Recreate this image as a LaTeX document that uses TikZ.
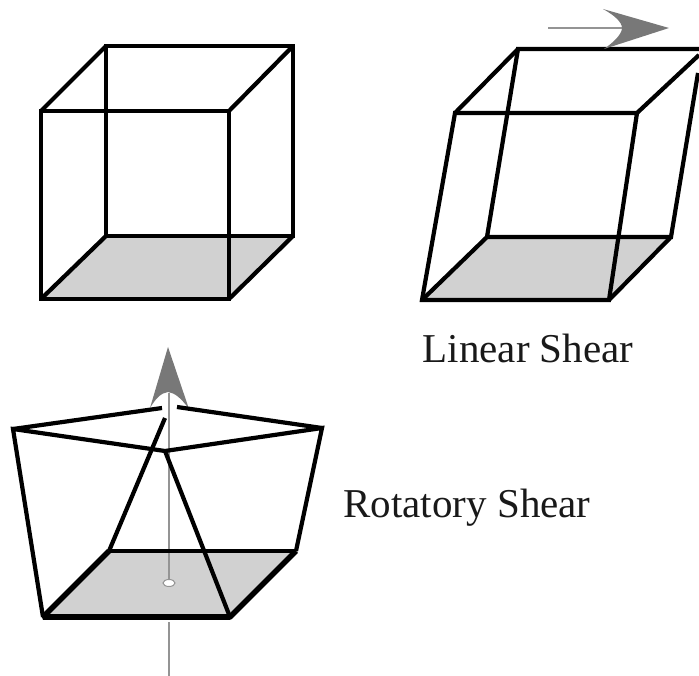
\documentclass[tikz,border=0pt]{standalone}
\usepackage{fontspec}
\setmainfont{Liberation Serif}
\usepackage{xcolor}
\usetikzlibrary{arrows.meta,positioning}
\definecolor{floorgray}{gray}{0.82}
\definecolor{axisgray}{gray}{0.58}
\definecolor{headgray}{gray}{0.47}

\begin{document}
\begin{tikzpicture}[x=1pt, y=-1pt,
  edge/.style={draw, line width=4.2pt, line join=miter},
  heavy/.style={draw, line width=5.6pt, line join=bevel},
  floor/.style={fill=floorgray, draw=none},
  axis/.style={draw=axisgray, line width=2.4pt},
  head/.style={fill=headgray, draw=none},
  caption/.style={font=\fontsize{41}{41}\selectfont, text=black!90, inner sep=0pt}
]
\useasboundingbox (0,0) rectangle (699,676);

% Cube
\coordinate (a1) at (41,111);
\coordinate (b1) at (229,111);
\coordinate (c1) at (229,299);
\coordinate (d1) at (41,299);
\coordinate (e1) at (106,46);
\coordinate (f1) at (293,46);
\coordinate (g1) at (293,236);
\coordinate (h1) at (106,236);
\fill[floor] (d1) -- (c1) -- (g1) -- (h1) -- cycle;
\draw[edge] (a1) -- (b1) -- (c1) -- (d1) -- cycle;
\draw[edge] (e1) -- (f1) -- (g1) -- (h1) -- cycle;
\draw[edge] (a1) -- (e1);
\draw[edge] (b1) -- (f1);
\draw[edge] (c1) -- (g1);
\draw[edge] (d1) -- (h1);

% Linear shear
\coordinate (a2) at (455,113);
\coordinate (b2) at (637,113);
\coordinate (c2) at (609,300);
\coordinate (d2) at (422,300);
\coordinate (e2) at (518,49);
\coordinate (f2) at (699,49);
\coordinate (k2) at (699,55);
\coordinate (m2) at (698,73);
\coordinate (g2) at (671,237);
\coordinate (h2) at (487,237);
\fill[floor] (d2) -- (c2) -- (g2) -- (h2) -- cycle;
\draw[edge] (a2) -- (b2) -- (c2) -- (d2) -- cycle;
\draw[edge] (f2) -- (e2) -- (h2) -- (g2) -- (m2);
\draw[edge] (a2) -- (e2);
\draw[edge] (b2) -- (k2);
\draw[edge] (c2) -- (g2);
\draw[edge] (d2) -- (h2);

% Shear arrow
\coordinate (t1) at (548,28);
\coordinate (t2) at (622,28);
\draw[axis] (t1) -- (t2);
\fill[head] (669,28) -- (603,9) .. controls (614,15) and (622,22) .. (t2)
  .. controls (622,34) and (614,42) .. (604,49) -- cycle;

% Rotatory shear
\coordinate (a3) at (13,429);
\coordinate (b3) at (322,428);
\coordinate (c3) at (230,617);
\coordinate (d3) at (43,617);
\coordinate (e3) at (165,451);
\coordinate (m3) at (162,408);
\coordinate (k3) at (177,407);
\coordinate (j3) at (165,418);
\coordinate (g3) at (296,551);
\coordinate (h3) at (109,551);
\fill[floor] (d3) -- (c3) -- (g3) -- (h3) -- cycle;
\draw[axis] (169,393) -- (169,582);
\draw[axis] (169,622) -- (169,676);

% Axis arrow
\fill[head] (168,347) -- (189,409) .. controls (181,398) and (175,393) .. (168,392)
  .. controls (161,393) and (156,398) .. (150,408) -- cycle;
\draw[draw=axisgray, fill=white, line width=1pt] (169,583) ellipse (6pt and 3.5pt);

\draw[edge] (h3) -- (g3);
\draw[heavy] (h3) -- (d3) -- (c3) -- (g3);
\draw[edge] (d3) -- (a3) -- (e3) -- (b3) -- (g3);
\draw[edge] (m3) -- (a3);
\draw[edge] (k3) -- (b3);
\draw[edge] (h3) -- (j3);
\draw[edge] (e3) -- (c3);

% Labels
\node[caption] (linear) at (528,348) {Linear Shear};
\node[caption] (rotatory) at (467,508) {Rotatory Shear};

\end{tikzpicture}
\end{document}
